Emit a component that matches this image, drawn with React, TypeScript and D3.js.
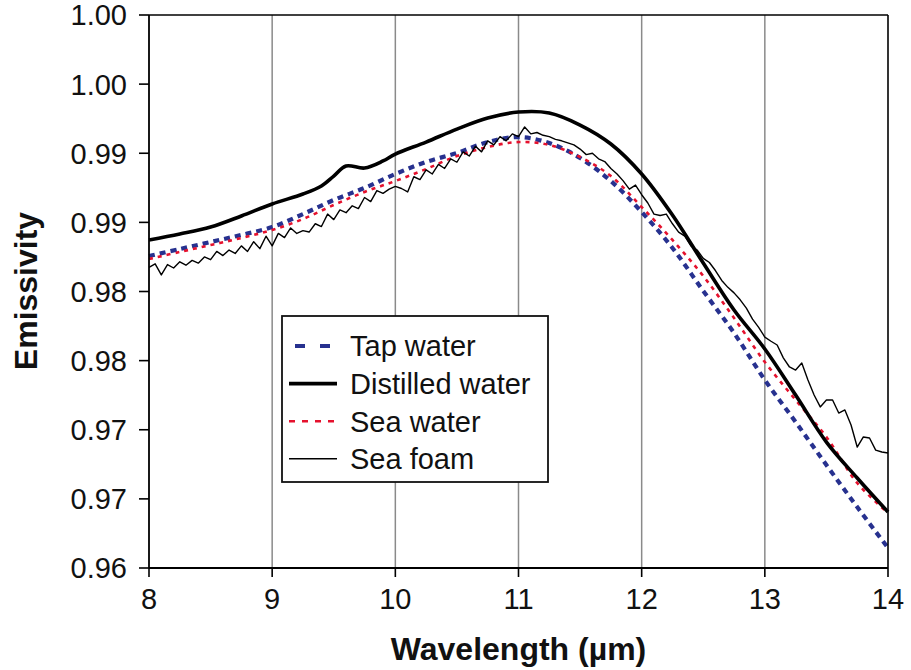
import React from "react";
import * as d3 from "d3";

// ---- data ----
const smoothWl = [8, 8.25, 8.5, 8.75, 9, 9.25, 9.5, 9.75, 10, 10.25, 10.5, 10.75, 11, 11.25, 11.5, 11.75, 12, 12.25, 12.5, 12.75, 13, 13.25, 13.5, 13.75, 14];
const tapWater = [0.98257, 0.98307, 0.98358, 0.98409, 0.98466, 0.9856, 0.98662, 0.98749, 0.9885, 0.98937, 0.99002, 0.99081, 0.99117, 0.99074, 0.98966, 0.98799, 0.98575, 0.98315, 0.98004, 0.977, 0.9736, 0.97056, 0.96745, 0.96441, 0.96145];
const seaWater = [0.98235, 0.98286, 0.98336, 0.98387, 0.98445, 0.98524, 0.98626, 0.9872, 0.98799, 0.98886, 0.9898, 0.99045, 0.99081, 0.9906, 0.98973, 0.98835, 0.98611, 0.98373, 0.98112, 0.97808, 0.9749, 0.97215, 0.96948, 0.96615, 0.96398];

const distilledWl = [8, 8.25, 8.5, 8.75, 9, 9.25, 9.4, 9.5, 9.6, 9.75, 9.9, 10, 10.25, 10.5, 10.75, 11, 11.25, 11.5, 11.75, 12, 12.25, 12.5, 12.75, 13, 13.25, 13.5, 13.75, 14];
const distilledWater = [0.98373, 0.98416, 0.98466, 0.98546, 0.98633, 0.98705, 0.98763, 0.98835, 0.98908, 0.98893, 0.98944, 0.98994, 0.99081, 0.99175, 0.99255, 0.99298, 0.99291, 0.99204, 0.99067, 0.9885, 0.98553, 0.98206, 0.97866, 0.97584, 0.97251, 0.96911, 0.96651, 0.96405];

const foamWl = d3.range(0, 121).map((i) => 8 + i * 0.05);
const seaFoam = [
  0.98175, 0.982, 0.9812, 0.98195, 0.9817, 0.98215, 0.9819, 0.98225, 0.98205, 0.9825,
  0.9823, 0.9829, 0.9826, 0.983, 0.98275, 0.9833, 0.9829, 0.9836, 0.9831, 0.984,
  0.9833, 0.9842, 0.9839, 0.9846, 0.9842, 0.9844, 0.9843, 0.9849, 0.9847, 0.9856,
  0.9852, 0.9859, 0.9857, 0.9862, 0.986, 0.9868, 0.9865, 0.9873, 0.9871, 0.9874,
  0.9876, 0.98745, 0.9872, 0.9883, 0.9881, 0.9888, 0.9885, 0.9892, 0.9889, 0.9896,
  0.98935, 0.9901, 0.9898, 0.9905, 0.9901, 0.9909, 0.9906, 0.9912, 0.9909, 0.9914,
  0.9912, 0.9919, 0.9914, 0.9915, 0.9913, 0.9912, 0.991, 0.9909, 0.99075, 0.9906,
  0.9903, 0.9899, 0.99, 0.9896, 0.9894, 0.9889, 0.9885, 0.988, 0.9874, 0.9877,
  0.987, 0.9864, 0.9856, 0.9855, 0.9856, 0.9849, 0.9843, 0.984, 0.9833, 0.983,
  0.9824, 0.9821, 0.9815, 0.9808, 0.9803, 0.9799, 0.9794, 0.9788, 0.978, 0.9774,
  0.9767, 0.9764, 0.97613, 0.9752, 0.97454, 0.97432, 0.97483, 0.9736, 0.97251, 0.97165,
  0.97215, 0.97215, 0.97121, 0.97143, 0.97034, 0.96875, 0.96948, 0.9694, 0.96853, 0.96839,
  0.96832,
];

const xTicks = [8, 9, 10, 11, 12, 13, 14];
const yTicks = [0.96, 0.965, 0.97, 0.975, 0.98, 0.985, 0.99, 0.995, 1.0];
const yTickLabels = ["0.96", "0.97", "0.97", "0.98", "0.98", "0.99", "0.99", "1.00", "1.00"];
const legendNames = ["Tap water", "Distilled water", "Sea water", "Sea foam"];

const W = 911;
const H = 670;
const margin = { left: 149, right: 23, top: 15, bottom: 102 };
const FONT = "'Liberation Sans', Arial, Helvetica, sans-serif";

const styles: Record<string, { stroke: string; width: number; dash?: string }> = {
  "Tap water": { stroke: "#27318f", width: 4.2, dash: "6,5" },
  "Distilled water": { stroke: "#000", width: 3.6 },
  "Sea water": { stroke: "#e5112d", width: 2.6, dash: "4,5" },
  "Sea foam": { stroke: "#000", width: 1.4 },
};

export default function App() {
  const x = d3.scaleLinear().domain([8, 14]).range([margin.left, W - margin.right]);
  const y = d3.scaleLinear().domain([0.96, 1.0]).range([H - margin.bottom, margin.top]);

  const smooth = d3
    .line<[number, number]>()
    .x((d) => x(d[0]))
    .y((d) => y(d[1]))
    .curve(d3.curveCatmullRom.alpha(0.5));
  const linear = d3
    .line<[number, number]>()
    .x((d) => x(d[0]))
    .y((d) => y(d[1]));

  const zip = (a: number[], b: number[]) => a.map((v, i) => [v, b[i]] as [number, number]);

  const series = [
    { name: "Tap water", d: smooth(zip(smoothWl, tapWater)) },
    { name: "Sea water", d: smooth(zip(smoothWl, seaWater)) },
    { name: "Distilled water", d: smooth(zip(distilledWl, distilledWater)) },
    { name: "Sea foam", d: linear(zip(foamWl, seaFoam)) },
  ];

  const x0 = x(8), x1 = x(14), y0 = y(0.96), y1 = y(1.0);
  const lg = { x: 282, y: 316, w: 266, h: 166 };

  return (
    <svg width={W} height={H} style={{ position: "absolute", left: 0, top: 0, background: "#fff" }} fontFamily={FONT}>
      <rect x={0} y={0} width={W} height={H} fill="#fff" />
      {/* grid */}
      {xTicks.slice(1, -1).map((t) => (
        <line key={t} x1={x(t)} x2={x(t)} y1={y1} y2={y0} stroke="#8a8a8a" strokeWidth={1.5} />
      ))}
      {/* series */}
      {series.map((s) => {
        const st = styles[s.name];
        return (
          <path key={s.name} d={s.d || ""} fill="none" stroke={st.stroke} strokeWidth={st.width} strokeDasharray={st.dash} strokeLinejoin="round" />
        );
      })}
      {/* frame */}
      <line x1={x0} x2={x1} y1={y1} y2={y1} stroke="#000" strokeWidth={1.6} />
      <line x1={x1} x2={x1} y1={y1} y2={y0} stroke="#000" strokeWidth={1.6} />
      <line x1={x0} x2={x0} y1={y1} y2={y0} stroke="#000" strokeWidth={1.8} />
      <line x1={x0} x2={x1} y1={y0} y2={y0} stroke="#000" strokeWidth={1.8} />
      {/* y ticks */}
      {yTicks.map((t, i) => (
        <g key={t}>
          <line x1={x0 - 10} x2={x0} y1={y(t)} y2={y(t)} stroke="#000" strokeWidth={1.6} />
          <text x={127} y={y(t)} dy="0.36em" textAnchor="end" fontSize={29} fill="#111">
            {yTickLabels[i]}
          </text>
        </g>
      ))}
      {/* x ticks */}
      {xTicks.map((t) => (
        <g key={t}>
          <line x1={x(t)} x2={x(t)} y1={y0} y2={y0 + 9} stroke="#000" strokeWidth={1.6} />
          <text x={x(t)} y={609} textAnchor="middle" fontSize={29} fill="#111">
            {t}
          </text>
        </g>
      ))}
      {/* axis titles */}
      <text x={(x0 + x1) / 2} y={660} textAnchor="middle" fontSize={32} fontWeight="bold" fill="#111">
        Wavelength (µm)
      </text>
      <text transform={`translate(37,${291}) rotate(-90)`} textAnchor="middle" fontSize={32} fontWeight="bold" fill="#111">
        Emissivity
      </text>
      {/* legend */}
      <rect x={lg.x} y={lg.y} width={lg.w} height={lg.h} fill="#fff" stroke="#111" strokeWidth={1.8} />
      {legendNames.map((n, i) => {
        const st = styles[n];
        const cy = 346 + i * 37.6;
        return (
          <g key={n}>
            <line
              x1={n === "Tap water" ? 295 : 289}
              x2={337}
              y1={cy}
              y2={cy}
              stroke={st.stroke}
              strokeWidth={st.width === 1.4 ? 1.6 : st.width}
              strokeDasharray={n === "Tap water" ? "10,15" : n === "Sea water" ? "6,7" : undefined}
            />
            <text x={350} y={cy} dy="0.36em" fontSize={29} fill="#111">
              {n}
            </text>
          </g>
        );
      })}
    </svg>
  );
}
